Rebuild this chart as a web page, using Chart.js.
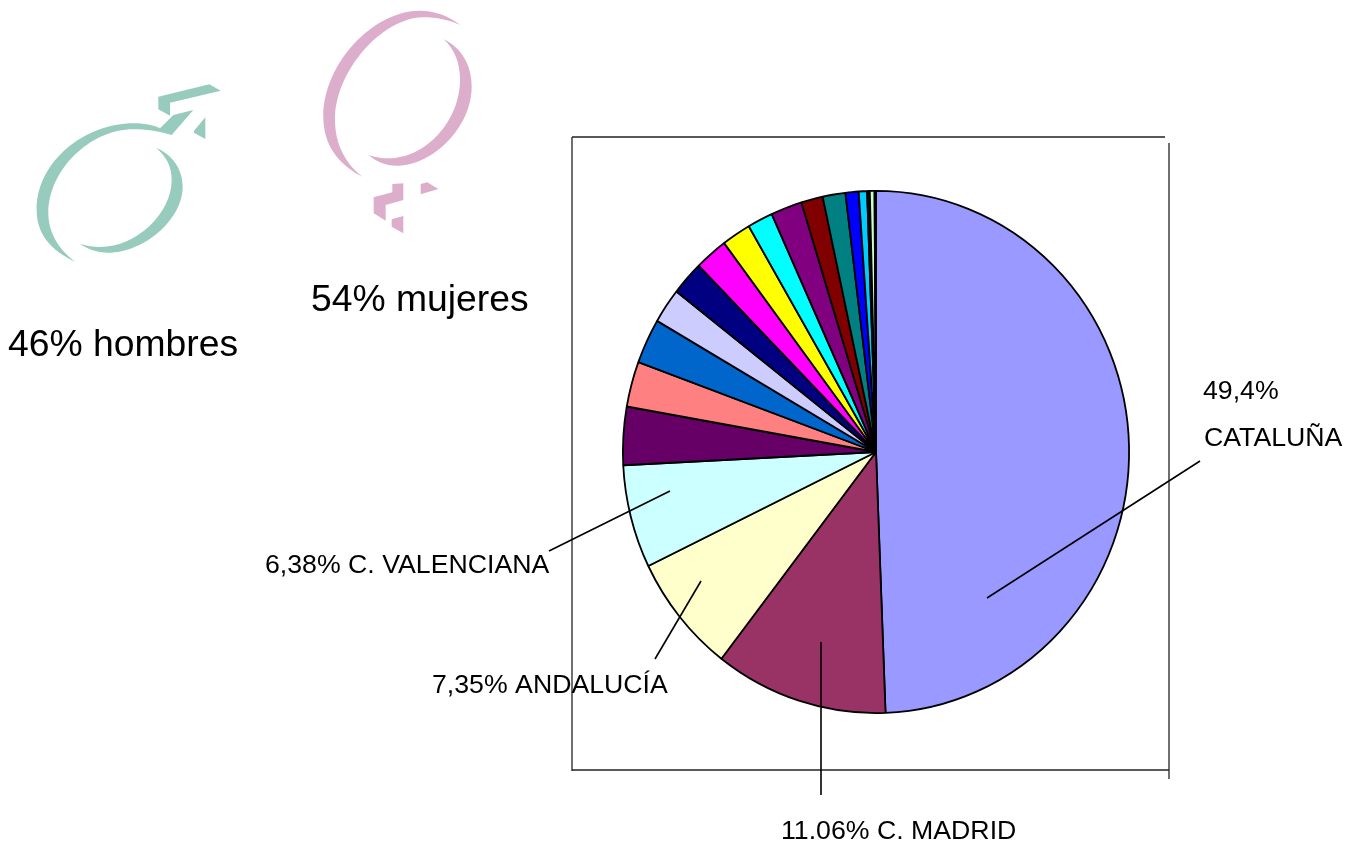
<!DOCTYPE html>
<html>
<head>
<meta charset="utf-8">
<title>Reparto por comunidades</title>
<script src="https://cdnjs.cloudflare.com/ajax/libs/Chart.js/4.4.1/chart.umd.js"></script>
<style>
html, body { margin: 0; padding: 0; background: #fff; overflow: hidden; }
canvas { display: block; }
</style>
</head>
<body>
<canvas id="myChart" width="1347" height="842"></canvas>
<script>
const categories = ["CATALUÑA", "C. MADRID", "ANDALUCÍA", "C. VALENCIANA", "", "", "", "", "", "", "", "", "", "", "", "", "", "", "", "", ""];
const percents = [49.4, 11.06, 7.35, 6.38, 3.6, 2.8, 2.78, 2.17, 2.11, 2.11, 1.86, 1.62, 2.0, 1.38, 1.45, 0.84, 0.53, 0.12, 0.05, 0.3, 0.09];
const sliceColors = ["#9999FF", "#993366", "#FFFFCC", "#CCFFFF", "#660066", "#FF8080", "#0066CC", "#CCCCFF", "#000080", "#FF00FF", "#FFFF00", "#00FFFF", "#800080", "#800000", "#008080", "#0000FF", "#00CCFF", "#CCFFFF", "#008080", "#CCFFCC", "#FFFFFF"];

// labels written round the pie: [text, x, baseline]
const sliceLabels = [
	["49,4%", 1203, 399],
	["CATALUÑA", 1204, 446],
	["11.06% C. MADRID", 781, 839],
	["7,35% ANDALUCÍA", 432, 693],
	["6,38% C. VALENCIANA", 265, 573]
];
const genderLabels = [
	["46% hombres", 8, 356],
	["54% mujeres", 311, 311]
];
const leaderLines = [
	[1200, 461, 987, 598],
	[821, 642, 821, 795],
	[701, 581, 655, 659],
	[670, 491, 549, 551]
];
const frameLines = [
	[572, 137, 1165, 137],
	[572, 137, 572, 771],
	[572, 770, 1169, 770],
	[1169, 143, 1169, 779]
];

// gender symbols, traced off a 3x crop whose corner is at (20,0)
// each shape starts at a point, then 2 numbers = line to, 6 numbers = bezier to
const maleColor = "#97CBBD";
const femaleColor = "#DCAECB";
const maleShapes = [
	[[165,785],
		[90,750,50,700,50,630], [50,480,200,370,340,370], [370,370,400,375,420,385],
		[460,345], [520,330], [455,405],
		[410,392,380,388,340,388], [210,388,85,510,85,640], [85,690,110,745,165,785]],
	[[408,443],
		[460,465,488,510,488,560], [488,660,370,758,265,758], [230,758,205,748,180,732],
		[200,738,220,741,240,741], [350,741,455,640,455,540], [455,500,440,470,408,443]],
	[[415,290], [568,253], [602,272], [450,308], [450,347], [415,328]],
	[[556,352], [556,417], [522,398], [522,392]]
];
const femaleShapes = [
	[[1322,75],
		[1285,48,1245,32,1200,32], [1060,32,910,190,910,350], [910,430,950,490,1027,530],
		[975,490,945,430,945,360], [945,210,1090,52,1210,52], [1250,52,1285,60,1322,75]],
	[[1272,118],
		[1325,145,1355,195,1355,260], [1355,380,1240,497,1130,497], [1095,497,1070,485,1045,465],
		[1065,472,1085,475,1105,475], [1220,475,1320,360,1320,240], [1320,190,1305,150,1272,118]],
	[[1117,552], [1150,550], [1150,600], [1097,615], [1097,662], [1061,640], [1061,592], [1117,577]],
	[[1202,552], [1222,547], [1255,567], [1202,583]],
	[[1115,658], [1150,648], [1150,700], [1115,680]]
];

function drawShapes(ctx, shapes, color) {
	const px = (x) => x / 3 + 20;
	const py = (y) => y / 3;
	ctx.fillStyle = color;
	shapes.forEach((shape) => {
		ctx.beginPath();
		ctx.moveTo(px(shape[0][0]), py(shape[0][1]));
		shape.slice(1).forEach((s) => {
			if (s.length === 2) ctx.lineTo(px(s[0]), py(s[1]));
			else ctx.bezierCurveTo(px(s[0]), py(s[1]), px(s[2]), py(s[3]), px(s[4]), py(s[5]));
		});
		ctx.closePath();
		ctx.fill();
	});
}

function drawLines(ctx, lines, color, width) {
	ctx.strokeStyle = color;
	ctx.lineWidth = width;
	lines.forEach((l) => {
		ctx.beginPath();
		ctx.moveTo(l[0], l[1]);
		ctx.lineTo(l[2], l[3]);
		ctx.stroke();
	});
}

function drawTexts(ctx, texts, font) {
	ctx.font = font;
	ctx.fillStyle = "#000";
	ctx.textAlign = "left";
	ctx.textBaseline = "alphabetic";
	texts.forEach((t) => ctx.fillText(t[0], t[1], t[2]));
}

// the original pie is a little taller than wide
const stretchY = 261 / 253;

const ovalPie = {
	id: "ovalPie",
	beforeDatasetsDraw(chart) {
		const arc = chart.getDatasetMeta(0).data[0];
		const ctx = chart.ctx;
		ctx.save();
		ctx.translate(0, arc.y);
		ctx.scale(1, stretchY);
		ctx.translate(0, -arc.y);
	},
	afterDatasetsDraw(chart) {
		chart.ctx.restore();
	}
};

const extras = {
	id: "extras",
	afterDraw(chart) {
		const ctx = chart.ctx;
		ctx.save();
		drawShapes(ctx, maleShapes, maleColor);
		drawShapes(ctx, femaleShapes, femaleColor);
		drawLines(ctx, frameLines, "#222", 1.3);
		drawLines(ctx, leaderLines, "#000", 1.6);
		drawTexts(ctx, sliceLabels, "26.7px 'Liberation Sans', Arial, sans-serif");
		drawTexts(ctx, genderLabels, "37.3px 'Liberation Sans', Arial, sans-serif");
		ctx.restore();
	}
};

const myChart = new Chart(document.getElementById("myChart").getContext("2d"), {
	type: "pie",
	data: {
		labels: categories,
		datasets: [{
			data: percents,
			backgroundColor: sliceColors,
			borderColor: "#000",
			borderWidth: 1.8,
			borderAlign: "center",
			hoverOffset: 0,
			clip: false
		}]
	},
	options: {
		responsive: false,
		animation: false,
		layout: { padding: { left: 622, right: 217, top: 198, bottom: 136 } },
		plugins: { legend: { display: false }, tooltip: { enabled: false } }
	},
	plugins: [ovalPie, extras]
});
</script>
</body>
</html>
